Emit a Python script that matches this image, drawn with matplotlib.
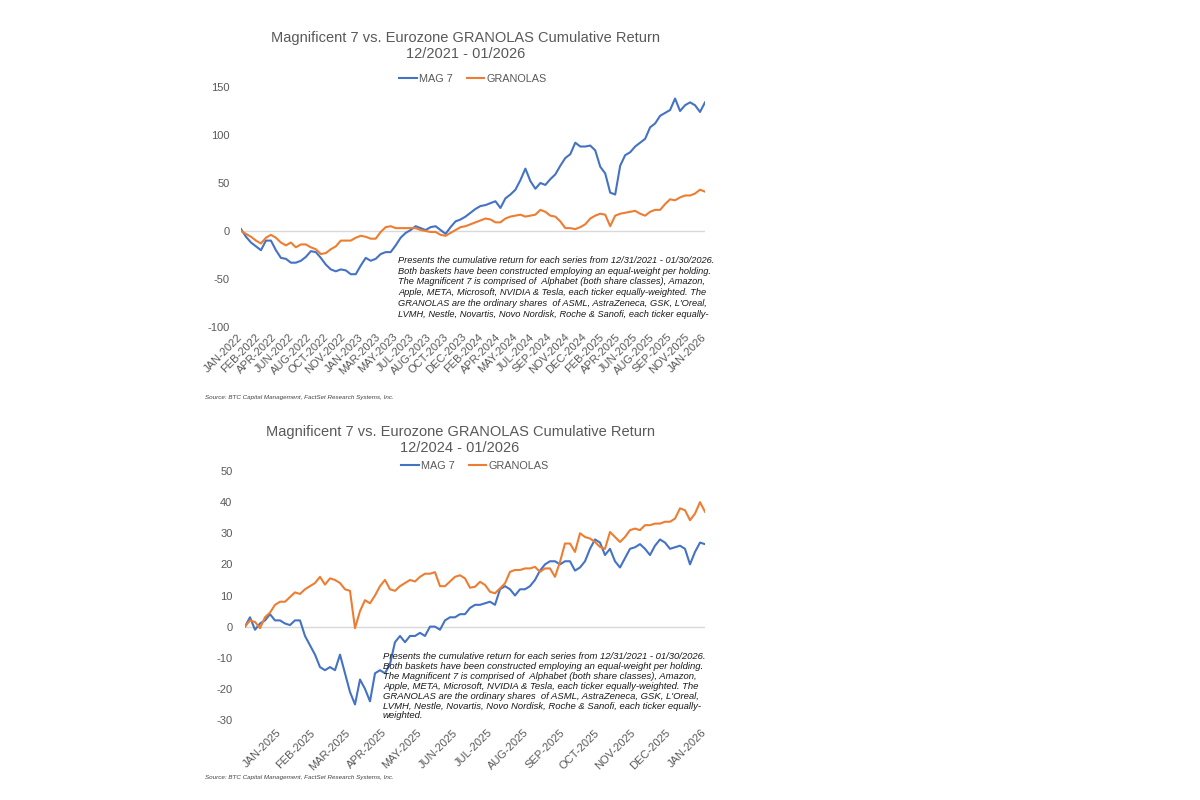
import matplotlib
matplotlib.use('Agg')
import matplotlib.pyplot as plt
import numpy as np
import pandas as pd

plt.rcParams['font.family'] = ['Liberation Sans', 'DejaVu Sans']
plt.rcParams['axes.unicode_minus'] = False

# ---- data: 12/2021 - 01/2026 (equally spaced samples) ----
mag7_long = [2, -6, -12, -16, -20, -10, -10, -20, -28, -29, -33, -33, -31, -27, -21,
             -22, -28, -35, -40, -42, -40, -41, -45, -45, -36, -28, -31, -29, -24, -22,
             -22, -15, -7, -2, 1, 5, 3, 1, 4, 5, 1, -3, 4, 10,
             12, 15, 19, 23, 26, 27, 29, 31, 24, 34, 38, 43, 53, 65, 52,
             44, 50, 48, 54, 59, 68, 76, 80, 92, 88, 88, 89, 84, 67, 60,
             40, 38, 68, 79, 82, 88, 92, 96, 108, 112, 120, 123, 126, 138, 125,
             131, 134, 131, 124, 134]
granolas_long = [0, -3, -6, -10, -13, -7, -4, -7, -12, -15, -12, -17, -14, -14, -17,
                 -19, -24, -23, -19, -16, -10, -10, -10, -7, -5, -6, -8, -8, -1, 4,
                 5, 3, 3, 3, 3, 3, 1, 0, -1, -1, -4, -5, -2, 1,
                 4, 5, 7, 9, 11, 13, 12, 9, 9, 13, 15, 16, 17, 15, 16,
                 17, 22, 20, 16, 15, 10, 3, 3, 2, 4, 7, 13, 16, 18, 17,
                 5, 16, 18, 19, 20, 21, 18, 16, 20, 22, 22, 28, 33, 32, 35,
                 37, 37, 39, 43, 41]
long_ticks = ['JAN-2022', 'FEB-2022', 'APR-2022', 'JUN-2022', 'AUG-2022', 'OCT-2022',
              'NOV-2022', 'JAN-2023', 'MAR-2023', 'MAY-2023', 'JUL-2023', 'AUG-2023',
              'OCT-2023', 'DEC-2023', 'FEB-2024', 'APR-2024', 'MAY-2024', 'JUL-2024',
              'SEP-2024', 'NOV-2024', 'DEC-2024', 'FEB-2025', 'APR-2025', 'JUN-2025',
              'AUG-2025', 'SEP-2025', 'NOV-2025', 'JAN-2026']

# ---- data: 12/2024 - 01/2026 ----
mag7_short = [0, 3, -1, 1, 2, 4, 2, 2, 1, 0.5, 2, 2, -3, -6, -9,
              -13, -14, -13, -14, -9, -15, -21, -25, -17, -20, -24, -15, -14, -15, -12,
              -5, -3, -5, -3, -3, -2, -3, 0, 0, -1, 2, 3, 3, 4, 4, 6,
              7, 7, 7.5, 8, 7, 12, 13, 12, 10, 12, 12, 13, 15, 18, 20,
              21, 21, 20, 21, 21, 18, 19, 21, 25, 28, 27, 23, 25, 21, 19,
              22, 25, 25.5, 26.5, 25, 23, 26, 28, 27, 25, 25.5, 26, 25, 20, 24,
              27, 26.5]
granolas_short = [0, 2, 1.5, -0.5, 3, 4.5, 7, 8, 8, 9.5, 11, 10.5, 12, 13, 14,
                  16, 13.5, 15.5, 15, 14, 12, 11.5, -0.5, 5, 8.5, 7.5, 10, 13, 15, 12,
                  11.5, 13, 14, 15, 14.5, 16, 17, 17, 17.5, 13, 13, 14.5, 16, 16.5, 15.5, 12.5,
                  12.8, 14.4, 13.4, 11.2, 10.7, 12.3, 13.9, 17.6, 18.2, 18.2, 18.7, 18.7, 19.2, 17.6, 18.7,
                  18.7, 16, 20.8, 26.7, 26.7, 24, 30, 28.8, 28.3, 27.2, 25.6, 25, 30.4, 28.8,
                  27.2, 28.8, 31, 31.5, 31, 32.6, 32.6, 33.1, 33.1, 33.7, 33.7, 34.7, 38, 37.4, 34.2,
                  36.3, 40, 36.9]
short_ticks = ['JAN-2025', 'FEB-2025', 'MAR-2025', 'APR-2025', 'MAY-2025', 'JUN-2025',
               'JUL-2025', 'AUG-2025', 'SEP-2025', 'OCT-2025', 'NOV-2025', 'DEC-2025', 'JAN-2026']

BLUE = '#4472C4'
ORANGE = '#ED7D31'
GREY = '#595959'

note_lines = [
    'Presents the cumulative return for each series from 12/31/2021 - 01/30/2026.',
    'Both baskets have been constructed employing an equal-weight per holding.',
    'The Magnificent 7 is comprised of  Alphabet (both share classes), Amazon,',
    'Apple, META, Microsoft, NVIDIA & Tesla, each ticker equally-weighted. The',
    "GRANOLAS are the ordinary shares  of ASML, AstraZeneca, GSK, L'Oreal,",
    'LVMH, Nestle, Novartis, Novo Nordisk, Roche & Sanofi, each ticker equally-',
    'weighted.',
]
source = 'Source: BTC Capital Management, FactSet Research Systems, Inc.'

W, H = 1200, 800
fig = plt.figure(figsize=(12, 8), dpi=100)


def px(x0, y_top, x1, y_bot):
    return [x0 / W, 1 - y_bot / H, (x1 - x0) / W, (y_bot - y_top) / H]


def style(ax, ylim, yticks, ypad, xpad, leg_y):
    for s in ax.spines.values():
        s.set_visible(False)
    ax.axhline(0, color='#D9D9D9', lw=1.0, zorder=0)
    ax.set_ylim(*ylim)
    ax.set_yticks(yticks)
    ax.tick_params(axis='y', length=0, pad=ypad, labelsize=8, labelcolor=GREY)
    ax.tick_params(axis='x', length=0, pad=xpad, labelsize=8, labelcolor=GREY)
    ax.legend(loc='center', bbox_to_anchor=(0.5, leg_y), ncol=2, frameon=False,
              fontsize=7.8, labelcolor=GREY, handlelength=1.6, handletextpad=0.2,
              columnspacing=1.3)


# ---- top chart ----
ax1 = fig.add_axes(px(241, 87, 705, 327))
x1 = np.arange(len(mag7_long))
ax1.plot(x1, mag7_long, color=BLUE, lw=1.5, label='MAG 7')
ax1.plot(x1, granolas_long, color=ORANGE, lw=1.5, label='GRANOLAS')
ax1.set_xlim(0, len(mag7_long) - 1)
ax1.set_xticks(np.linspace(0, len(mag7_long) - 1, len(long_ticks)), long_ticks,
               rotation=45, ha='right', va='center', rotation_mode='anchor')
style(ax1, (-100, 150), [-100, -50, 0, 50, 100, 150], 8, 6, 1.035)

fig.text(466 / W, 1 - 46 / H,
         'Magnificent 7 vs. Eurozone GRANOLAS Cumulative Return\n12/2021 - 01/2026',
         ha='center', va='center', fontsize=10.5, color=GREY, linespacing=1.1)
fig.text(398 / W, 1 - 256 / H, '\n'.join(note_lines[:6]), ha='left', va='top',
         fontsize=6.65, style='italic', color='#1a1a1a', linespacing=1.25)
fig.text(205 / W, 1 - 397 / H, source, fontsize=4.5, style='italic', color='#404040',
         va='center')

# ---- bottom chart ----
ax2 = fig.add_axes(px(245, 471, 705, 720))
dates = pd.date_range('2024-12-31', '2026-01-30', periods=len(mag7_short)).to_numpy()
ax2.plot(dates, mag7_short, color=BLUE, lw=1.5, label='MAG 7')
ax2.plot(dates, granolas_short, color=ORANGE, lw=1.5, label='GRANOLAS')
ax2.set_xlim(dates[0], dates[-1])
tick_dates = [(pd.Timestamp('2025-01-30') + pd.DateOffset(months=i)).to_datetime64()
              for i in range(len(short_ticks))]
ax2.set_xticks(tick_dates, short_ticks, rotation=45, ha='right', va='center',
               rotation_mode='anchor')
style(ax2, (-30, 50), [-30, -20, -10, 0, 10, 20, 30, 40, 50], 9, 8, 1.02)

fig.text(460 / W, 1 - 440 / H,
         'Magnificent 7 vs. Eurozone GRANOLAS Cumulative Return\n12/2024 - 01/2026',
         ha='center', va='center', fontsize=10.5, color=GREY, linespacing=1.1)
fig.text(383 / W, 1 - 652 / H, '\n'.join(note_lines), ha='left', va='top',
         fontsize=6.8, style='italic', color='#1a1a1a', linespacing=1.13)
fig.text(205 / W, 1 - 778 / H, source, fontsize=4.5, style='italic', color='#404040',
         va='center')

fig.savefig('out.png', dpi=100, facecolor='white')
